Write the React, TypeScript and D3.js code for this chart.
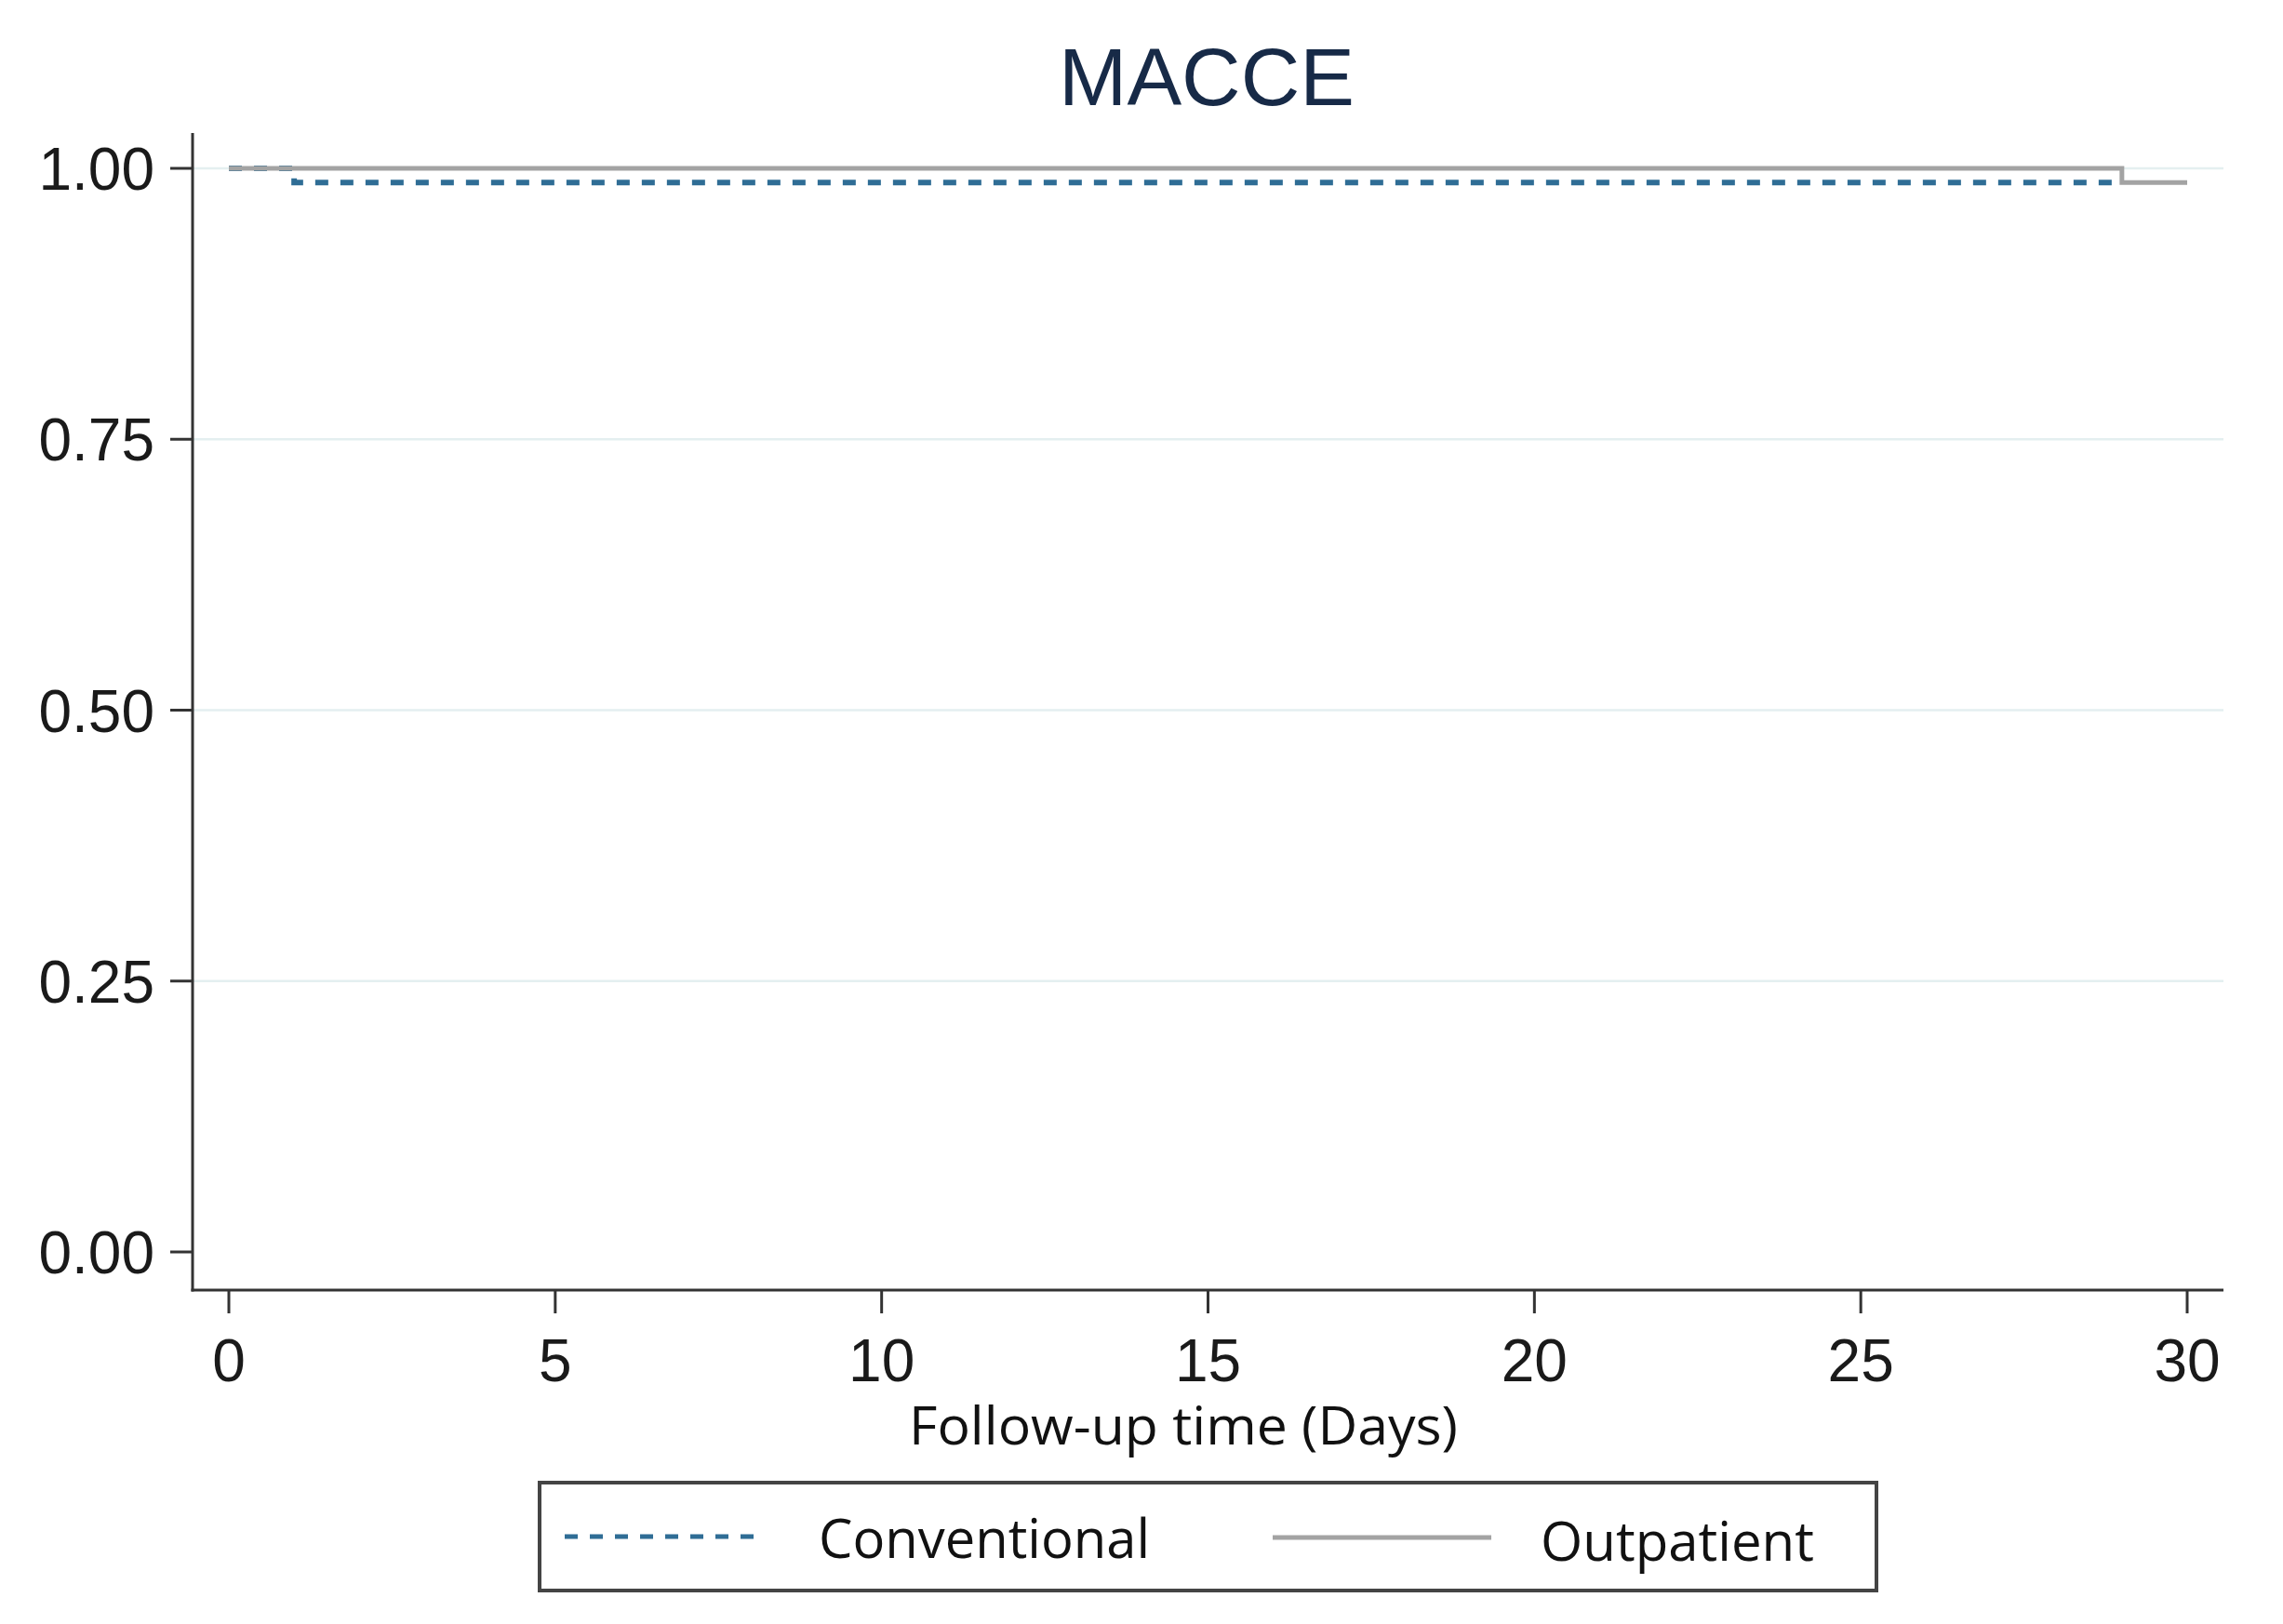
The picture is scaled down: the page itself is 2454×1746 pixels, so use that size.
import React from "react";
import * as d3 from "d3";

const conventionalDays = [0, 1, 29];
const conventionalSurv = [1.0, 0.987, 0.987];
const outpatientDays = [0, 29, 30];
const outpatientSurv = [1.0, 0.987, 0.987];
const xTicks = [0, 5, 10, 15, 20, 25, 30];
const yTicks = [0, 0.25, 0.5, 0.75, 1.0];
const seriesNames = ["Conventional", "Outpatient"];
const titleText = "MACCE";
const xLabel = "Follow-up time (Days)";

const W = 2454;
const H = 1746;
const axisX = 207;
const axisY = 1387;
const axisTop = 143;
const plotRight = 2390;

const blue = "#2f6d95";
const gray = "#a3a3a3";
const axisColor = "#333333";
const gridColor = "#e4eff0";
const sans = "'Liberation Sans', Arial, sans-serif";
const calib = "'Open Sans', 'Noto Sans', sans-serif";

export default function App() {
  const x = d3.scaleLinear().domain([0, 30]).range([246, 2351]);
  const y = d3.scaleLinear().domain([0, 1]).range([1346, 181]);
  const line = d3
    .line<[number, number]>()
    .x((d) => x(d[0]))
    .y((d) => y(d[1]))
    .curve(d3.curveStepAfter);
  const conv = line(conventionalDays.map((d, i) => [d, conventionalSurv[i]] as [number, number])) || "";
  const outp = line(outpatientDays.map((d, i) => [d, outpatientSurv[i]] as [number, number])) || "";
  const fmt = d3.format(".2f");

  return (
    <svg
      width={W}
      height={H}
      style={{ position: "absolute", left: 0, top: 0, background: "#fff" }}
    >
      <rect x={0} y={0} width={W} height={H} fill="#fff" />
      <text x={1297} y={113} textAnchor="middle" fontFamily={sans} fontSize={88} fill="#172a47">
        {titleText}
      </text>
      {yTicks.filter((t) => t > 0).map((t) => (
        <line key={"g" + t} x1={axisX} x2={plotRight} y1={y(t)} y2={y(t)} stroke={gridColor} strokeWidth={2.5} />
      ))}
      <path d={conv} fill="none" stroke={blue} strokeWidth={6} strokeDasharray="14 13" />
      <path d={outp} fill="none" stroke={gray} strokeWidth={5} />
      <line x1={axisX} x2={axisX} y1={axisTop} y2={axisY + 1.5} stroke={axisColor} strokeWidth={3} />
      <line x1={axisX - 1.5} x2={plotRight} y1={axisY} y2={axisY} stroke={axisColor} strokeWidth={3} />
      {yTicks.map((t) => (
        <g key={"y" + t}>
          <line x1={axisX - 24} x2={axisX} y1={y(t)} y2={y(t)} stroke={axisColor} strokeWidth={3} />
          <text x={166} y={y(t) + 23} textAnchor="end" fontFamily={sans} fontSize={64} fill="#1a1a1a">
            {fmt(t)}
          </text>
        </g>
      ))}
      {xTicks.map((t) => (
        <g key={"x" + t}>
          <line x1={x(t)} x2={x(t)} y1={axisY} y2={axisY + 25} stroke={axisColor} strokeWidth={3} />
          <text x={x(t)} y={1485} textAnchor="middle" fontFamily={sans} fontSize={64} fill="#1a1a1a">
            {t}
          </text>
        </g>
      ))}
      <text x={1272} y={1553} textAnchor="middle" fontFamily={calib} fontSize={57} fill="#111" textLength={590} lengthAdjust="spacingAndGlyphs">
        {xLabel}
      </text>
      <rect x={580} y={1594} width={1437} height={116} fill="#fff" stroke="#444" strokeWidth={4} />
      <line x1={607} x2={813} y1={1652} y2={1652} stroke={blue} strokeWidth={5} strokeDasharray="14 13" />
      <text x={880} y={1675} fontFamily={calib} fontSize={59} fill="#111" textLength={356} lengthAdjust="spacingAndGlyphs">
        {seriesNames[0]}
      </text>
      <line x1={1368} x2={1603} y1={1653} y2={1653} stroke={gray} strokeWidth={5} />
      <text x={1656} y={1678} fontFamily={calib} fontSize={59} fill="#111" textLength={294} lengthAdjust="spacingAndGlyphs">
        {seriesNames[1]}
      </text>
    </svg>
  );
}
